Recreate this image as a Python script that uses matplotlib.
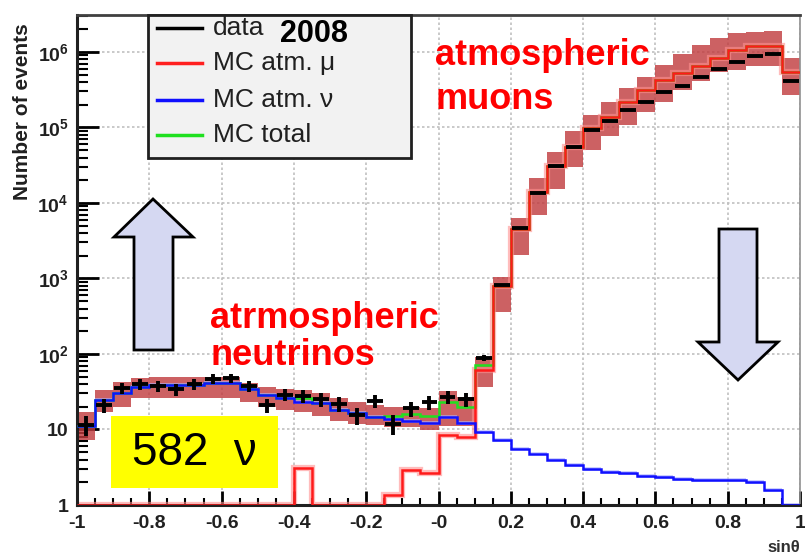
import numpy as np
import matplotlib
matplotlib.use("Agg")
import matplotlib.pyplot as plt
from matplotlib.patches import Polygon, Rectangle
from matplotlib.lines import Line2D
from matplotlib.ticker import FixedLocator, NullFormatter

plt.rcParams['font.family'] = ['Liberation Sans', 'DejaVu Sans']
plt.rcParams['mathtext.fontset'] = 'custom'
plt.rcParams['mathtext.rm'] = 'Liberation Sans:bold'
plt.rcParams['mathtext.bf'] = 'Liberation Sans:bold'

# ---------------- data ----------------
bin_edges = np.linspace(-1.0, 1.0, 41)

data_counts = [11.5, 21, 35, 40, 38, 34, 40, 47, 48, 38,
               21, 29, 28, 25, 22, 15.5, 24, 12, 19, 23,
               27, 25, 89, 815, 4650, 13500, 31000, 55000, 93000, 123000,
               170000, 220000, 295000, 350000, 460000, 590000, 740000, 890000, 930000, 410000]

mc_nu = [11.1, 24.6, 30, 37, 39, 39, 39, 41, 41, 34,
         29, 26, 23.4, 22.4, 18, 16.7, 14.7, 13.8, 13, 12.2,
         14.7, 12.1, 9.3, 7.2, 5.6, 4.8, 4.0, 3.4, 2.97, 2.76,
         2.63, 2.42, 2.37, 2.19, 2.14, 2.14, 2.14, 2.03, 1.58, 0.5]

mc_mu = [0, 0, 0, 0, 0, 0, 0, 0, 0, 0,
         0, 0, 3.1, 0, 0, 0, 0, 1.35, 2.9, 2.68,
         8.5, 7.9, 61, 800, 4500, 14000, 31000, 56000, 98000, 139000,
         220000, 310000, 420000, 520000, 650000, 840000, 1070000, 1200000, 1200000, 550000]

mc_total = [11.1, 24.6, 30, 37, 39, 39, 39, 41, 41, 34,
            29, 26, 26.5, 22.4, 18, 16.7, 14.7, 15.2, 15.9, 14.9,
            23.2, 20.0, 71, 807, 4506, 14005, 31004, 56003, 98003, 139003,
            220003, 310002, 420002, 520002, 650002, 840002, 1070002, 1200002, 1200002, 550000]

band_hi = [17.2, 33, 43, 48, 50, 50, 50, 50, 50, 41,
           37, 34, 33, 30, 26, 23, 21, 20, 20, 19,
           32, 27, 90, 1050, 6300, 21400, 47900, 89000, 148000, 219000,
           331000, 468000, 676000, 955000, 1230000, 1510000, 1780000, 1860000, 1910000, 830000]

band_lo = [7.3, 17.2, 20, 26, 26, 26, 26, 26, 26, 23,
           20, 18, 17, 15, 13, 12, 11.4, 10.7, 10.7, 9.8,
           11, 11, 37, 363, 2050, 6900, 15500, 30200, 50000, 76000,
           107000, 162000, 219000, 316000, 407000, 550000, 575000, 646000, 646000, 269000]

x_ticks = [-1, -0.8, -0.6, -0.4, -0.2, 0, 0.2, 0.4, 0.6, 0.8, 1]
x_tick_labels = ['-1', '-0.8', '-0.6', '-0.4', '-0.2', '-0', '0.2', '0.4', '0.6', '0.8', '1']
y_ticks = [1, 10, 1e2, 1e3, 1e4, 1e5, 1e6]
y_tick_labels = ['1', '10', r'$\mathbf{10^{2}}$', r'$\mathbf{10^{3}}$', r'$\mathbf{10^{4}}$',
                 r'$\mathbf{10^{5}}$', r'$\mathbf{10^{6}}$']

legend_labels = ['data', 'MC atm. \u03bc', 'MC atm. \u03bd', 'MC total']
legend_colors = ['black', '#ff2020', '#1010ff', '#20e020']

# ---------------- figure ----------------
W, H = 805, 558
fig = plt.figure(figsize=(W / 100, H / 100), dpi=100)

def fx(px):
    return px / W

def fy(py):
    return 1 - py / H

ax = fig.add_axes([fx(77), fy(505), fx(800) - fx(77), fy(15) - fy(505)])
ax.set_yscale('log')
ax.set_xlim(-1, 1)
ax.set_ylim(1, 10 ** 6.49)

# grid
ax.grid(True, which='major', linestyle=(0, (1.5, 1.5)), color='#c0c0c0', linewidth=1.2, zorder=0)

ylo = 1.0
# error band
ax.stairs(band_hi, bin_edges, baseline=band_lo, fill=True, color='#c0393c', alpha=0.8,
          linewidth=0, zorder=2)

# light halo on nu line
nu = np.clip(np.array(mc_nu), ylo, None)
ax.stairs(nu * 1.06, bin_edges, baseline=nu / 1.06, fill=True, color='#aab0ff', alpha=0.6,
          linewidth=0, zorder=2)

mu = np.clip(np.array(mc_mu), ylo, None)
ax.stairs(np.clip(np.array(mc_total), ylo, None), bin_edges, color='#20e020', linewidth=1.8,
          zorder=2.8, baseline=None)
ax.stairs(mu, bin_edges, color='#ff9090', linewidth=4.5, alpha=0.6, zorder=2.5, baseline=None)
ax.stairs(mu, bin_edges, color='#ff1a1a', linewidth=1.8, zorder=3, baseline=None)
ax.stairs(nu, bin_edges, color='#1010ff', linewidth=1.8, zorder=3.4, baseline=None)

# data
centers = 0.5 * (bin_edges[:-1] + bin_edges[1:])
dc = np.array(data_counts)
ax.errorbar(centers, dc, xerr=0.022, yerr=np.sqrt(dc), fmt='none', ecolor='black',
            elinewidth=2.8, capsize=0, zorder=5)

# ticks
ax.xaxis.set_major_locator(FixedLocator(x_ticks))
ax.set_xticklabels(x_tick_labels)
ax.xaxis.set_minor_locator(FixedLocator(np.arange(-1, 1.001, 0.05)))
ax.yaxis.set_major_locator(FixedLocator(y_ticks))
ax.set_yticklabels(y_tick_labels)
minors = [m * 10 ** e for e in range(0, 7) for m in range(2, 10)]
ax.yaxis.set_minor_locator(FixedLocator(minors))
ax.yaxis.set_minor_formatter(NullFormatter())
ax.tick_params(axis='x', which='major', direction='in', length=10, width=2, labelsize=14, pad=7,
               top=False)
ax.tick_params(axis='x', which='minor', direction='in', length=5, width=1.5, top=False)
ax.tick_params(axis='y', which='major', direction='in', length=16, width=2, labelsize=14, pad=6,
               right=False)
ax.tick_params(axis='y', which='minor', direction='in', length=8, width=1.5, right=False)
for lab in ax.get_xticklabels() + ax.get_yticklabels():
    lab.set_fontweight('bold')
    lab.set_color('#202020')

for s in ['left', 'bottom']:
    ax.spines[s].set_linewidth(2.2)
    ax.spines[s].set_color('#202020')
ax.spines['top'].set_linewidth(2.0)
ax.spines['top'].set_color('#404040')
ax.spines['right'].set_linewidth(1.2)
ax.spines['right'].set_color('#909090')

# axis labels
fig.text(fx(22), fy(112), 'Number of events', rotation=90, ha='center', va='center',
         fontsize=15, fontweight='bold', color='#202020')
fig.text(fx(800), fy(548), 'sin\u03b8', ha='right', va='center', fontsize=12,
         fontweight='bold', color='#303030')

# legend box
fig.add_artist(Rectangle((fx(148), fy(158)), fx(411) - fx(148), fy(15) - fy(158),
                         transform=fig.transFigure, facecolor='#f2f2f2', edgecolor='#202020',
                         linewidth=2, zorder=10))
row_y = [28, 63, 100, 135]
for lbl, col, ry in zip(legend_labels, legend_colors, row_y):
    fig.add_artist(Line2D([fx(157), fx(202)], [fy(ry), fy(ry)], transform=fig.transFigure,
                          color=col, linewidth=2.5, zorder=11))
    fig.text(fx(213), fy(ry), lbl, ha='left', va='center', fontsize=19, color='#202020',
             zorder=12)
fig.text(fx(280), fy(34), '2008', ha='left', va='center', fontsize=22, fontweight='bold',
         color='black', zorder=12)

# annotations
for txt, px, py in [('atmospheric', 435, 65), ('muons', 435, 109),
                    ('atrmospheric', 210, 328), ('neutrinos', 210, 365)]:
    fig.text(fx(px), fy(py), txt, ha='left', va='baseline', fontsize=26, fontweight='bold',
             color='#ff0000', zorder=12)

# yellow box
fig.add_artist(Rectangle((fx(111), fy(488)), fx(278) - fx(111), fy(416) - fy(488),
                         transform=fig.transFigure, facecolor='#ffff00', edgecolor='none',
                         zorder=10))
fig.text(fx(194), fy(453), '582  \u03bd', ha='center', va='center', fontsize=33, color='black',
         zorder=12)

# arrows
up = [(153, 199), (193, 237), (173, 237), (173, 350), (134, 350), (134, 237), (114, 237)]
down = [(719, 229), (757, 229), (757, 342), (778, 342), (738, 380), (698, 342), (719, 342)]
for pts in (up, down):
    fig.add_artist(Polygon([(fx(a), fy(b)) for a, b in pts], closed=True,
                           transform=fig.transFigure, facecolor='#d5d8f2',
                           edgecolor='black', linewidth=2, zorder=10))

fig.savefig('out.png', dpi=100)
